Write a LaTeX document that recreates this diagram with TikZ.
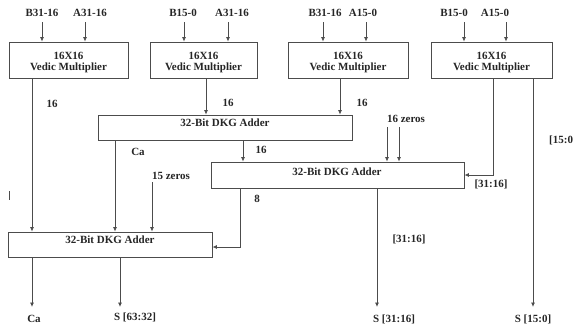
\documentclass[tikz,border=0pt]{standalone}
\usepackage{fontspec}
\setmainfont{Liberation Serif}
\usetikzlibrary{arrows.meta}
\begin{document}
\begin{tikzpicture}[x=1pt,y=-1pt,
  box/.style={draw=black!70,line width=0.8pt,fill=white,inner sep=0pt},
  lbl/.style={font=\bfseries\fontsize{11}{12}\selectfont,inner sep=0pt,text=black!85},
  wire/.style={draw=black!70,line width=0.8pt},
  arr/.style={wire,-{Latex[length=4.5pt,width=4pt]}}]
\useasboundingbox (0,0) rectangle (574,325);
% multipliers
\node[box,minimum width=119pt,minimum height=36pt] (m1) at (68.5,60) {};
\node[box,minimum width=107pt,minimum height=36pt] (m2) at (203.5,60) {};
\node[box,minimum width=120pt,minimum height=36pt] (m3) at (348,60) {};
\node[box,minimum width=121pt,minimum height=36pt] (m4) at (491.5,60) {};
\foreach \m in {m1,m2,m3,m4}{
  \node[lbl,align=center] (\m t) at ([yshift=-3pt]\m.center) {16X16\\[-1pt]Vedic Multiplier};
}
% adders
\node[box,minimum width=254pt,minimum height=25pt] (a1) at (225,127.5) {};
\node[box,minimum width=253pt,minimum height=26pt] (a2) at (337.5,175) {};
\node[box,minimum width=204pt,minimum height=25pt] (a3) at (110,244.5) {};
\node[lbl] (a1t) at (225,123) {32-Bit DKG Adder};
\node[lbl] (a2t) at (337,172) {32-Bit DKG Adder};
\node[lbl] (a3t) at (110,240) {32-Bit DKG Adder};
% input labels
\node[lbl] (b1) at (42,13) {B31-16};
\node[lbl] (c1) at (90,13) {A31-16};
\node[lbl] (b2) at (183,13) {B15-0};
\node[lbl] (c2) at (232,13) {A31-16};
\node[lbl] (b3) at (325,13) {B31-16};
\node[lbl] (c3) at (363,13) {A15-0};
\node[lbl] (b4) at (454,13) {B15-0};
\node[lbl] (c4) at (495,13) {A15-0};
% input arrow starts
\coordinate (ib1) at (42,22);
\coordinate (ic1) at (85,22);
\coordinate (ib2) at (184,22);
\coordinate (ic2) at (228,22);
\coordinate (ib3) at (323,22);
\coordinate (ic3) at (366,22);
\coordinate (ib4) at (464,22);
\coordinate (ic4) at (506,22);
\foreach \i/\m in {ib1/m1,ic1/m1,ib2/m2,ic2/m2,ib3/m3,ic3/m3,ib4/m4,ic4/m4}{
  \draw[arr] (\i) -- (\i |- \m.north);
}
% wire x positions
\coordinate (x1) at (32,0);
\coordinate (x2) at (206,0);
\coordinate (x3) at (340,0);
\coordinate (x4) at (493,0);
\coordinate (x5) at (533,0);
\coordinate (xca) at (115,0);
\coordinate (xs) at (243,0);
\coordinate (x15) at (152,182);
\coordinate (x8) at (240,0);
\coordinate (xs2) at (377,0);
\coordinate (xs3) at (120,0);
\coordinate (z1) at (387,127);
\coordinate (z2) at (399,127);
% connections
\draw[arr] (m1.south -| x1) -- (a3.north -| x1);
\draw[arr] (m2.south -| x2) -- (a1.north -| x2);
\draw[arr] (m3.south -| x3) -- (a1.north -| x3);
\draw[arr] (m4.south -| x4) |- (a2.east);
\draw[arr] (a1.south -| xca) -- (a3.north -| xca);
\draw[arr] (a1.south -| xs) -- (a2.north -| xs);
\draw[arr] (x15) -- (a3.north -| x15);
\draw[arr] (z1) -- (a2.north -| z1);
\draw[arr] (z2) -- (a2.north -| z2);
\coordinate (r8) at (240,247);
\draw[arr] (a2.south -| x8) -- (r8) -- (r8 -| a3.east);
% outputs
\node[lbl] (o1) at (34,319) {Ca};
\node[lbl] (o2) at (135,317) {S [63:32]};
\node[lbl] (o3) at (394,319) {S [31:16]};
\node[lbl] (o4) at (533,319) {S [15:0]};
\coordinate (e) at (0,307);
\draw[arr] (a3.south -| x1) -- (e -| x1);
\draw[arr] (a3.south -| xs3) -- (e -| xs3);
\draw[arr] (a2.south -| xs2) -- (e -| xs2);
\draw[arr] (m4.south -| x5) -- (e -| x5);
% labels on wires
\node[lbl] (l1) at (52,104) {16};
\node[lbl] (l2) at (228,103) {16};
\node[lbl] (l3) at (362,103) {16};
\node[lbl] (l4) at (261,150) {16};
\node[lbl] (l5) at (138,152) {Ca};
\node[lbl] (l6) at (171,176) {15 zeros};
\node[lbl] (l7) at (257,199) {8};
\node[lbl] (l8) at (406,119) {16 zeros};
\node[lbl] (l9) at (491,184) {[31:16]};
\node[lbl] (l10) at (409,239) {[31:16]};
\node[lbl,anchor=west] (l11) at (549,140) {[15:0};
% stray mark
\coordinate (t1) at (9,191);
\coordinate (t2) at (9,200);
\draw[wire] (t1) -- (t2);
\end{tikzpicture}
\end{document}
